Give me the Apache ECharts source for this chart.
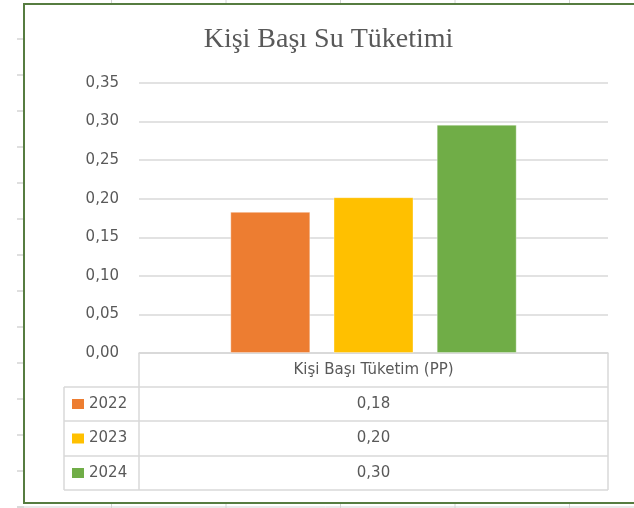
<!DOCTYPE html>
<html>
<head>
<meta charset="utf-8">
<script src="https://cdn.jsdelivr.net/npm/echarts@6/dist/echarts.min.js"></script>
<style>
  html, body { margin: 0; padding: 0; background: #fff; }
  #main { width: 634px; height: 508px; }
</style>
</head>
<body>
<div id="main"></div>
<script>
// data
var titleText = 'Kişi Başı Su Tüketimi'
var category = ['Kişi Başı Tüketim (PP)']
var years = ['2022', '2023', '2024']
var values = [0.183, 0.202, 0.296]
var colors = ['#ED7D31', '#FFC000', '#70AD47']
var yMin = 0
var yMax = 0.35
var yStep = 0.05

var textColor = '#595959'
var lineColor = '#d9d9d9'
var uiFont = 'DejaVu Sans'

function fmt(v) {
  return v.toFixed(2).replace('.', ',')
}

var chart = echarts.init(document.getElementById('main'), null, { renderer: 'canvas' })

// one series per year, a single category
var series = years.map(function (y, i) {
  return {
    name: y,
    type: 'bar',
    data: [values[i]],
    barWidth: 80,
    barGap: '29%',
    itemStyle: {
      color: colors[i],
      borderColor: 'rgba(255,255,255,0.35)',
      borderWidth: 1
    }
  }
})

// data table under the plot (Excel style)
var T = { left: 64, mid: 139, right: 608, top: 353, rows: [387, 421, 456, 490] }
var g = []
function hline(x1, x2, y) {
  g.push({ type: 'line', silent: true, shape: { x1: x1, y1: y, x2: x2, y2: y }, style: { stroke: lineColor, lineWidth: 1.5 } })
}
function vline(x, y1, y2) {
  g.push({ type: 'line', silent: true, shape: { x1: x, y1: y1, x2: x, y2: y2 }, style: { stroke: lineColor, lineWidth: 1.5 } })
}
hline(T.mid, T.right, T.top)
T.rows.forEach(function (y) { hline(T.left, T.right, y) })
vline(T.left, T.rows[0], T.rows[3])
vline(T.mid, T.top, T.rows[3])
vline(T.right, T.top, T.rows[3])

var cx = (T.mid + T.right) / 2
g.push({
  type: 'text', silent: true,
  style: { text: category[0], x: cx, y: (T.top + T.rows[0]) / 2, align: 'center', verticalAlign: 'middle', fill: textColor, font: '15px "' + uiFont + '"' }
})
years.forEach(function (y, i) {
  var top = T.rows[i]
  var bot = T.rows[i + 1]
  var mid = (top + bot) / 2
  g.push({ type: 'rect', silent: true, shape: { x: 72, y: mid - 5, width: 12, height: 10 }, style: { fill: colors[i] } })
  g.push({
    type: 'text', silent: true,
    style: { text: y, x: 89, y: mid, align: 'left', verticalAlign: 'middle', fill: textColor, font: '15px "' + uiFont + '"' }
  })
  g.push({
    type: 'text', silent: true,
    style: { text: fmt(values[i]), x: cx, y: mid, align: 'center', verticalAlign: 'middle', fill: textColor, font: '15px "' + uiFont + '"' }
  })
})

// title
g.push({
  type: 'text', silent: true,
  style: { text: titleText, x: 328.5, y: 40, align: 'center', verticalAlign: 'middle', fill: textColor, font: '28px "Liberation Serif"' }
})

// chart frame and the spreadsheet grid around it
var sheet = '#d4d4d4'
for (var k = 0; k < 14; k++) {
  var ry = 39 + 36 * k
  g.push({ type: 'line', silent: true, z: -1, shape: { x1: 17, y1: ry, x2: 24, y2: ry }, style: { stroke: sheet, lineWidth: 1.5 } })
}
;[111.5, 226, 340.5, 455, 569.5].forEach(function (x) {
  g.push({ type: 'line', silent: true, z: -1, shape: { x1: x, y1: 0, x2: x, y2: 3 }, style: { stroke: sheet, lineWidth: 1 } })
  g.push({ type: 'line', silent: true, z: -1, shape: { x1: x, y1: 503, x2: x, y2: 508 }, style: { stroke: sheet, lineWidth: 1 } })
})
g.push({ type: 'line', silent: true, z: -1, shape: { x1: 17, y1: 507, x2: 634, y2: 507 }, style: { stroke: sheet, lineWidth: 1 } })
g.push({
  type: 'rect', silent: true,
  shape: { x: 24, y: 4, width: 640, height: 499 },
  style: { fill: 'none', stroke: '#567c40', lineWidth: 2 }
})

var option = {
  animation: false,
  backgroundColor: '#fff',
  grid: { left: 139, right: 26, top: 83, bottom: 155 },
  xAxis: {
    type: 'category',
    data: category,
    axisLine: { lineStyle: { color: lineColor, width: 1.5 } },
    axisTick: { show: false },
    axisLabel: { show: false }
  },
  yAxis: {
    type: 'value',
    min: yMin,
    max: yMax,
    interval: yStep,
    axisLine: { show: false },
    axisTick: { show: false },
    axisLabel: {
      color: textColor,
      fontFamily: uiFont,
      fontSize: 15,
      margin: 20,
      formatter: function (v) { return fmt(v) }
    },
    splitLine: { lineStyle: { color: lineColor, width: 1.5 } }
  },
  series: series,
  graphic: g
}
chart.setOption(option)
</script>
</body>
</html>
